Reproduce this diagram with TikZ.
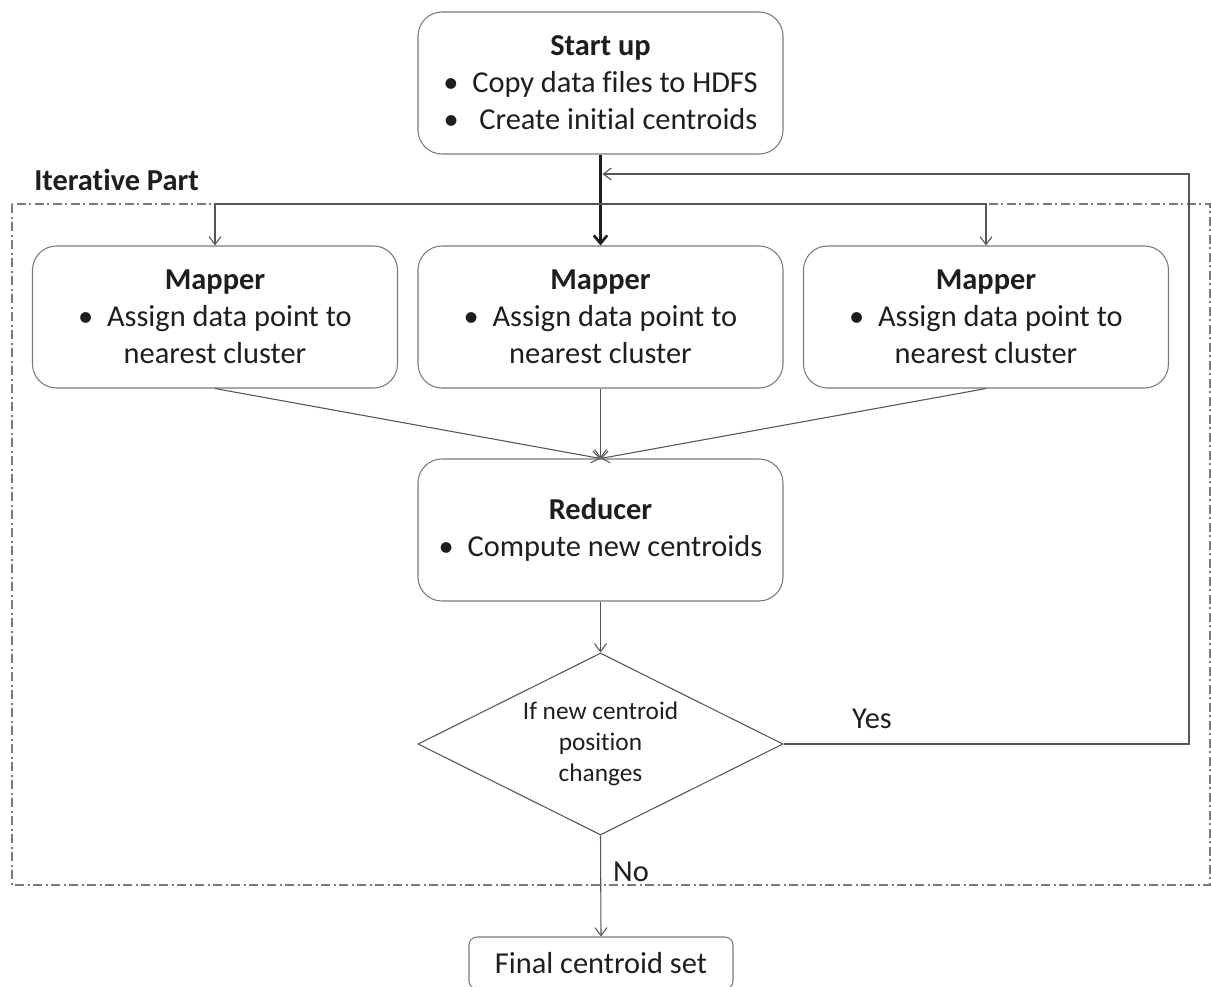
\documentclass[tikz,border=0pt]{standalone}
\usepackage{fontspec}
\setmainfont{Carlito}[Ligatures=NoCommon]
\usetikzlibrary{shapes.geometric,arrows.meta}
\definecolor{edge}{HTML}{555555}
\definecolor{frame}{HTML}{7A7A7A}
\definecolor{ink}{HTML}{1E1E1E}
\begin{document}
\begin{tikzpicture}[x=0.75pt,y=-0.75pt,
  rbox/.style={draw=frame, line width=0.8pt, rounded corners=18pt, align=center,
    minimum width={365*0.75pt}, minimum height={142*0.75pt}, inner sep=0pt,
    text=ink, font=\fontsize{22.8}{27.75}\selectfont},
  decide/.style={draw=edge, line width=0.8pt, diamond, aspect=2, inner sep=0pt,
    minimum width={365*0.75pt}, minimum height={182*0.75pt}, align=center,
    text=ink, font=\fontsize{19}{23.25}\selectfont},
  endbox/.style={draw=frame, line width=0.8pt, rounded corners=6pt,
    minimum width={264*0.75pt}, minimum height={52*0.75pt}, inner sep=0pt,
    text=ink, font=\fontsize{22.8}{26}\selectfont},
  lbl/.style={text=ink, inner sep=0pt, font=\fontsize{22.8}{26}\selectfont},
  flow/.style={draw=edge, line width=0.8pt, -{Straight Barb[length=6pt,width=9pt]}},
  mainflow/.style={draw=ink, line width=2.2pt, -{Straight Barb[length=6pt,width=10pt,line width=2pt]}},
  region/.style={draw=frame, line width=0.8pt, dash pattern=on 7pt off 2.5pt on 1.5pt off 2.5pt}]
\useasboundingbox (0,0) rectangle (1211,986);

% iteration frame and its title
\draw[region] (12,204) rectangle (1210,885);
\node[lbl, font=\fontsize{22.8}{26}\selectfont\bfseries, anchor=west] (iterlbl) at (34,180) {Iterative Part};

% boxes
\node[rbox] (start) at (600.5,83) {\textbf{Start up}\\\textbullet\ \ Copy data files to HDFS\\\textbullet\ \ \ Create initial centroids};
\node[rbox] (map1) at (215,317) {\textbf{Mapper}\\\textbullet\ \ Assign data point to\\nearest cluster};
\node[rbox] (map2) at (600.5,317) {\textbf{Mapper}\\\textbullet\ \ Assign data point to\\nearest cluster};
\node[rbox] (map3) at (986,317) {\textbf{Mapper}\\\textbullet\ \ Assign data point to\\nearest cluster};
\node[rbox] (red) at (600.5,530) {\textbf{Reducer}\\\textbullet\ \ Compute new centroids};
\node[decide] (dec) at (600.5,744) {If new centroid\\position\\changes};
\node[endbox] (final) at (601,963) {Final centroid set};

% branch points
\coordinate (split) at (600.5,204);
\coordinate (back) at (600.5,174);
\coordinate (loopc) at (1189,174);
\coordinate (loopd) at (1189,744);

% start to mappers
\draw[mainflow] (start.south) -- (map2.north);
\draw[flow] (split) -| (map1.north);
\draw[flow] (split) -| (map3.north);

% mappers to reducer
\draw[flow] (map1.south) -- (red.north);
\draw[flow] (map2.south) -- (red.north);
\draw[flow] (map3.south) -- (red.north);

% reducer to decision
\draw[flow] (red.south) -- (dec.north);

% loop back on yes
\draw[flow] (dec.east) -- (loopd) -- (loopc) -- ([xshift=1.5pt]back);
\node[lbl] (yes) at (872,719) {Yes};

% exit on no
\draw[flow] (dec.south) -- (final.north);
\node[lbl] (no) at (631,872) {No};
\end{tikzpicture}
\end{document}
